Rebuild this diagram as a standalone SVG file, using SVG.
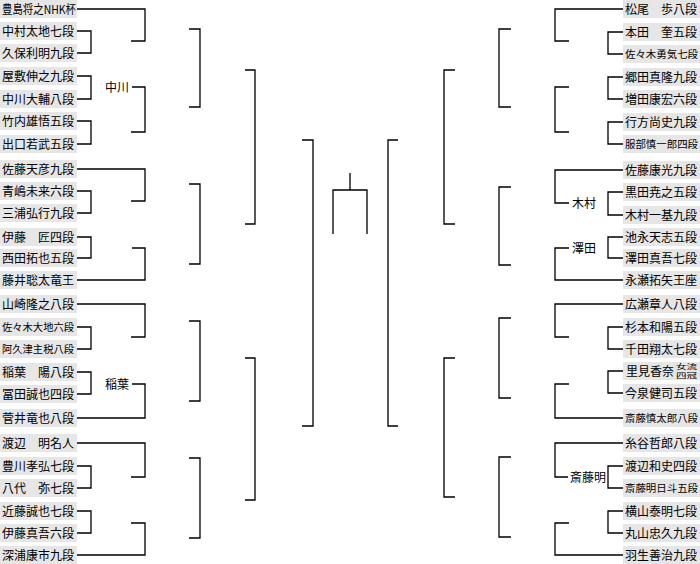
<svg xmlns="http://www.w3.org/2000/svg" width="700" height="564" viewBox="0 0 700 564">
<style>
.bg{fill:#fff}
.box{fill:#e6e6e6}
.t{font-family:"Noto Sans CJK JP","Noto Sans CJK SC",sans-serif;font-size:12px;fill:#000}
.s{font-size:10.3px}
.x{font-size:6.5px}
.ln{stroke:#000;stroke-width:1.3;fill:none}
</style>
<rect class="bg" x="0" y="0" width="700" height="564"/>
<g id="left-players">
<g id="L0"><rect class="box" x="0" y="0" width="77" height="18"/><text class="t" x="2" y="13.5" textLength="74" lengthAdjust="spacingAndGlyphs">豊島将之NHK杯</text></g>
<g id="L1"><rect class="box" x="0" y="22" width="77" height="18"/><text class="t" x="2" y="35.5">中村太地七段</text></g>
<g id="L2"><rect class="box" x="0" y="44" width="77" height="18"/><text class="t" x="2" y="57.5">久保利明九段</text></g>
<g id="L3"><rect class="box" x="0" y="67" width="77" height="18"/><text class="t" x="2" y="80.5">屋敷伸之九段</text></g>
<g id="L4"><rect class="box" x="0" y="90" width="77" height="18"/><text class="t" x="2" y="103.5">中川大輔八段</text></g>
<g id="L5"><rect class="box" x="0" y="112" width="77" height="18"/><text class="t" x="2" y="125.5">竹内雄悟五段</text></g>
<g id="L6"><rect class="box" x="0" y="135" width="77" height="18"/><text class="t" x="2" y="148.5">出口若武五段</text></g>
<g id="L7"><rect class="box" x="0" y="160" width="77" height="18"/><text class="t" x="2" y="173.5">佐藤天彦九段</text></g>
<g id="L8"><rect class="box" x="0" y="182" width="77" height="18"/><text class="t" x="2" y="195.5">青嶋未来六段</text></g>
<g id="L9"><rect class="box" x="0" y="204" width="77" height="18"/><text class="t" x="2" y="217.5">三浦弘行九段</text></g>
<g id="L10"><rect class="box" x="0" y="228" width="77" height="18"/><text class="t" x="2" y="241.5">伊藤　匠四段</text></g>
<g id="L11"><rect class="box" x="0" y="249" width="77" height="18"/><text class="t" x="2" y="262.5">西田拓也五段</text></g>
<g id="L12"><rect class="box" x="0" y="271" width="77" height="18"/><text class="t" x="2" y="284.5">藤井聡太竜王</text></g>
<g id="L13"><rect class="box" x="0" y="295" width="77" height="18"/><text class="t" x="2" y="308.5">山崎隆之八段</text></g>
<g id="L14"><rect class="box" x="0" y="318" width="77" height="18"/><text class="t s" x="2" y="330.5" textLength="72" lengthAdjust="spacingAndGlyphs">佐々木大地六段</text></g>
<g id="L15"><rect class="box" x="0" y="340" width="77" height="18"/><text class="t s" x="2" y="352.5" textLength="72" lengthAdjust="spacingAndGlyphs">阿久津主税八段</text></g>
<g id="L16"><rect class="box" x="0" y="363" width="77" height="18"/><text class="t" x="2" y="376.5">稲葉　陽八段</text></g>
<g id="L17"><rect class="box" x="0" y="385" width="77" height="18"/><text class="t" x="2" y="398.5">冨田誠也四段</text></g>
<g id="L18"><rect class="box" x="0" y="409" width="77" height="18"/><text class="t" x="2" y="422.5">菅井竜也八段</text></g>
<g id="L19"><rect class="box" x="0" y="434" width="77" height="18"/><text class="t" x="2" y="447.5">渡辺　明名人</text></g>
<g id="L20"><rect class="box" x="0" y="457" width="77" height="18"/><text class="t" x="2" y="470.5">豊川孝弘七段</text></g>
<g id="L21"><rect class="box" x="0" y="479" width="77" height="18"/><text class="t" x="2" y="492.5">八代　弥七段</text></g>
<g id="L22"><rect class="box" x="0" y="502" width="77" height="18"/><text class="t" x="2" y="515.5">近藤誠也七段</text></g>
<g id="L23"><rect class="box" x="0" y="524" width="77" height="18"/><text class="t" x="2" y="537.5">伊藤真吾六段</text></g>
<g id="L24"><rect class="box" x="0" y="546" width="77" height="18"/><text class="t" x="2" y="559.5">深浦康市九段</text></g>
</g>
<g id="right-players">
<g id="R0"><rect class="box" x="623" y="0" width="77" height="18"/><text class="t" x="625" y="13.5">松尾　歩八段</text></g>
<g id="R1"><rect class="box" x="623" y="23" width="77" height="18"/><text class="t" x="625" y="36.5">本田　奎五段</text></g>
<g id="R2"><rect class="box" x="623" y="45" width="77" height="18"/><text class="t s" x="625" y="57.5" textLength="73" lengthAdjust="spacingAndGlyphs">佐々木勇気七段</text></g>
<g id="R3"><rect class="box" x="623" y="68" width="77" height="18"/><text class="t" x="625" y="81.5">郷田真隆九段</text></g>
<g id="R4"><rect class="box" x="623" y="90" width="77" height="18"/><text class="t" x="625" y="103.5">増田康宏六段</text></g>
<g id="R5"><rect class="box" x="623" y="113" width="77" height="18"/><text class="t" x="625" y="126.5">行方尚史九段</text></g>
<g id="R6"><rect class="box" x="623" y="135" width="77" height="18"/><text class="t s" x="625" y="147.5" textLength="73" lengthAdjust="spacingAndGlyphs">服部慎一郎四段</text></g>
<g id="R7"><rect class="box" x="623" y="161" width="77" height="18"/><text class="t" x="625" y="174.5">佐藤康光九段</text></g>
<g id="R8"><rect class="box" x="623" y="183" width="77" height="18"/><text class="t" x="625" y="196.5">黒田尭之五段</text></g>
<g id="R9"><rect class="box" x="623" y="206" width="77" height="18"/><text class="t" x="625" y="219.5">木村一基九段</text></g>
<g id="R10"><rect class="box" x="623" y="228" width="77" height="18"/><text class="t" x="625" y="241.5">池永天志五段</text></g>
<g id="R11"><rect class="box" x="623" y="249" width="77" height="18"/><text class="t" x="625" y="262.5">澤田真吾七段</text></g>
<g id="R12"><rect class="box" x="623" y="271" width="77" height="18"/><text class="t" x="625" y="284.5">永瀬拓矢王座</text></g>
<g id="R13"><rect class="box" x="623" y="295" width="77" height="18"/><text class="t" x="625" y="308.5">広瀬章人八段</text></g>
<g id="R14"><rect class="box" x="623" y="318" width="77" height="18"/><text class="t" x="625" y="331.5">杉本和陽五段</text></g>
<g id="R15"><rect class="box" x="623" y="340" width="77" height="18"/><text class="t" x="625" y="353.5">千田翔太七段</text></g>
<g id="R16"><rect class="box" x="623" y="362" width="77" height="18"/><text class="t" x="626" y="376">里見香奈</text><text class="t x" x="676" y="369" textLength="21" lengthAdjust="spacingAndGlyphs">女流</text><text class="t x" x="676" y="378" textLength="21" lengthAdjust="spacingAndGlyphs">四冠</text></g>
<g id="R17"><rect class="box" x="623" y="384" width="77" height="18"/><text class="t" x="625" y="397.5">今泉健司五段</text></g>
<g id="R18"><rect class="box" x="623" y="409" width="77" height="18"/><text class="t s" x="625" y="421.5" textLength="73" lengthAdjust="spacingAndGlyphs">斎藤慎太郎八段</text></g>
<g id="R19"><rect class="box" x="623" y="434" width="77" height="18"/><text class="t" x="625" y="447.5">糸谷哲郎八段</text></g>
<g id="R20"><rect class="box" x="623" y="457" width="77" height="18"/><text class="t" x="625" y="470.5">渡辺和史四段</text></g>
<g id="R21"><rect class="box" x="623" y="479" width="77" height="18"/><text class="t s" x="625" y="491.5" textLength="73" lengthAdjust="spacingAndGlyphs">斎藤明日斗五段</text></g>
<g id="R22"><rect class="box" x="623" y="502" width="77" height="18"/><text class="t" x="625" y="515.5">横山泰明七段</text></g>
<g id="R23"><rect class="box" x="623" y="524" width="77" height="18"/><text class="t" x="625" y="537.5">丸山忠久九段</text></g>
<g id="R24"><rect class="box" x="623" y="546" width="77" height="18"/><text class="t" x="625" y="559.5">羽生善治九段</text></g>
</g>
<g id="winner-labels">
<text class="t" x="105" y="91.5">中川</text>
<text class="t" x="105" y="388.5">稲葉</text>
<text class="t" x="572" y="207.5">木村</text>
<text class="t" x="572" y="252.5">澤田</text>
<text class="t" x="570" y="481.5">斎藤明</text>
</g>
<g id="connectors" class="ln">
<path d="M77 31H91V53H77M77 76H91V99H77M77 121H91V144H77M77 191H91V213H77M77 237H91V258H77M77 327H91V349H77M77 372H91V394H77M77 466H91V488H77M77 511H91V533H77"/>
<path d="M77 9H145V41H131M132 87H145V132H131M77 169H145V201H131M132 248H145V280H77M77 304H145V337H131M132 384H145V418H77M77 443H145V477H131M131 523H145V555H77"/>
<path d="M189 29H200V107H189M189 184H200V264H189M189 321H200V401H189M189 458H200V538H189"/>
<path d="M245 70H255V224H245M245 358H255V500H245"/>
<path d="M302 140H313V426H302"/>
<path d="M350 173V190M333 234V190H367V234"/>
<path d="M398 140H388V426H398"/>
<path d="M455 70H444V224H455M455 358H444V497H455"/>
<path d="M511 29H499V107H511M511 187H499V265H511M511 318H499V398H511M511 457H499V537H511"/>
<path d="M623 9H555V41H569M569 87H555V132H569M623 170H555V203H569M569 248H555V280H623M623 304H555V337H569M569 384H555V418H623M623 443H555V477H568M569 523H555V555H623"/>
<path d="M623 32H608V54H623M623 77H608V99H623M623 122H608V144H623M623 192H608V215H623M623 237H608V258H623M623 327H608V349H623M623 371H608V393H623M623 466H608V488H623M623 511H608V533H623"/>
</g>
</svg>
